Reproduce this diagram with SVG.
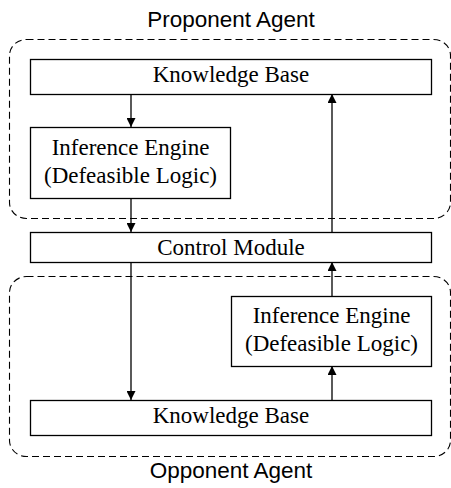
<svg xmlns="http://www.w3.org/2000/svg" width="451" height="488" viewBox="0 0 451 488">
  <style>
    .box { fill: #fff; stroke: #000; stroke-width: 1.3; }
    .grp { fill: none; stroke: #000; stroke-width: 1.1; stroke-dasharray: 7 4; }
    .lbl { font-family: "Liberation Serif", "Times New Roman", serif; font-size: 23px; fill: #000; text-anchor: middle; }
    .title { font-family: "Liberation Sans", Arial, sans-serif; font-size: 22.5px; fill: #000; text-anchor: middle; }
    .edge { stroke: #000; stroke-width: 1.3; fill: none; marker-end: url(#arrow); }
  </style>
  <defs>
    <marker id="arrow" viewBox="0 0 9 9" refX="9" refY="4.5" markerWidth="9" markerHeight="9" markerUnits="userSpaceOnUse" orient="auto">
      <path d="M0,0 L9,4.5 L0,9 Z" fill="#000"/>
    </marker>
  </defs>

  <!-- agent boundaries -->
  <g id="proponent-agent">
    <rect class="grp" x="9.5" y="39.5" width="441" height="179" rx="17" ry="16"/>
    <text class="title" x="231" y="27">Proponent Agent</text>
  </g>
  <g id="opponent-agent">
    <rect class="grp" x="9.5" y="276.5" width="441" height="180" rx="17" ry="16"/>
    <text class="title" x="231" y="478">Opponent Agent</text>
  </g>

  <!-- connectors -->
  <g id="connectors">
    <line class="edge" x1="131" y1="94" x2="131" y2="127"/>
    <line class="edge" x1="131" y1="198" x2="131" y2="232"/>
    <line class="edge" x1="332" y1="232" x2="332" y2="94"/>
    <line class="edge" x1="131" y1="262" x2="131" y2="400"/>
    <line class="edge" x1="332" y1="296" x2="332" y2="262"/>
    <line class="edge" x1="332" y1="400" x2="332" y2="366"/>
  </g>

  <!-- nodes -->
  <g id="kb-top">
    <rect class="box" x="30.5" y="59.5" width="401" height="35"/>
    <text class="lbl" x="231" y="82">Knowledge Base</text>
  </g>
  <g id="ie-top">
    <rect class="box" x="30.5" y="127.5" width="200" height="71"/>
    <text class="lbl" x="130.5" y="155">Inference Engine</text>
    <text class="lbl" x="130.5" y="183">(Defeasible Logic)</text>
  </g>
  <g id="control-module">
    <rect class="box" x="30.5" y="232.5" width="401" height="30"/>
    <text class="lbl" x="231" y="255">Control Module</text>
  </g>
  <g id="ie-bottom">
    <rect class="box" x="231.5" y="296.5" width="200" height="70"/>
    <text class="lbl" x="331.5" y="323">Inference Engine</text>
    <text class="lbl" x="331.5" y="351">(Defeasible Logic)</text>
  </g>
  <g id="kb-bottom">
    <rect class="box" x="30.5" y="400.5" width="401" height="35"/>
    <text class="lbl" x="231" y="423">Knowledge Base</text>
  </g>
</svg>
